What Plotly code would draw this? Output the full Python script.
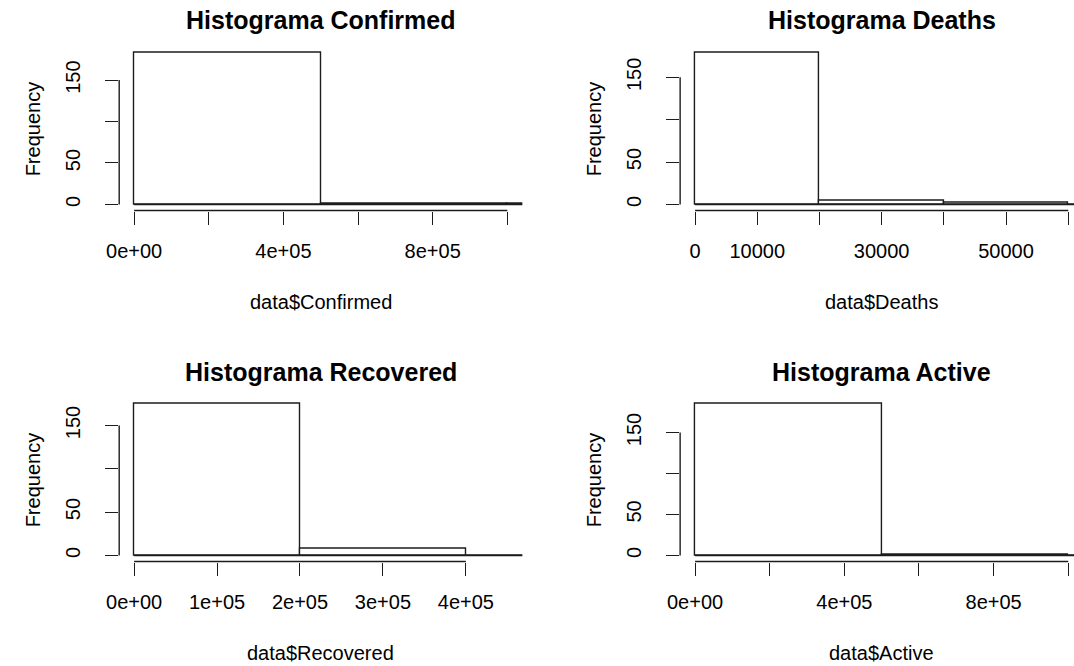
import plotly.graph_objects as go

# Histogram breaks (bin edges) and frequencies for each variable
confirmed_breaks = [0, 5e5, 1e6, 1.5e6, 2e6, 2.5e6, 3e6, 3.5e6, 4e6, 4.5e6]
confirmed_counts = [183, 1, 1, 0, 1, 0, 0, 0, 1]

deaths_breaks = [0, 20000, 40000, 60000, 80000, 100000, 120000, 140000, 160000]
deaths_counts = [179, 4, 2, 0, 1, 0, 0, 1]

recovered_breaks = [0, 2e5, 4e5, 6e5, 8e5, 1e6, 1.2e6, 1.4e6, 1.6e6, 1.8e6, 2e6]
recovered_counts = [175, 8, 0, 1, 1, 0, 1, 0, 0, 1]

active_breaks = [0, 5e5, 1e6, 1.5e6, 2e6, 2.5e6, 3e6]
active_counts = [185, 1, 0, 0, 0, 1]

# Axis ticks and labels (blank labels are the ones R drops for overlap)
confirmed_ticks = [0, 2e5, 4e5, 6e5, 8e5, 1e6]
confirmed_ticklabels = ["0e+00", "", "4e+05", "", "8e+05", ""]
deaths_ticks = [0, 10000, 20000, 30000, 40000, 50000, 60000]
deaths_ticklabels = ["0", "10000", "", "30000", "", "50000", ""]
recovered_ticks = [0, 1e5, 2e5, 3e5, 4e5]
recovered_ticklabels = ["0e+00", "1e+05", "2e+05", "3e+05", "4e+05"]
active_ticks = [0, 2e5, 4e5, 6e5, 8e5, 1e6]
active_ticklabels = ["0e+00", "", "4e+05", "", "8e+05", ""]
freq_ticks = [0, 50, 100, 150]
freq_ticklabels = ["0", "50", "", "150"]

titles = ["Histograma Confirmed", "Histograma Deaths",
          "Histograma Recovered", "Histograma Active"]
xlabels = ["data$Confirmed", "data$Deaths", "data$Recovered", "data$Active"]
ylabel = "Frequency"
xlims = [1e6, 60000, 450000, 1e6]

# ---- page geometry (pixels) ----
W, H = 1074, 666
COL_LEFT = [107.5, 675.3]      # left edge of the plotting region per column
REG_W = 408.0                  # plotting region width (unclipped)
ROW_TOP = [46.7, 397.7]
ROW_BOT = [210.5, 561.5]
INK = "#1c1c1c"
FONT = "Arial, Liberation Sans, sans-serif"

panels = [
    (confirmed_breaks, confirmed_counts, confirmed_ticks, confirmed_ticklabels),
    (deaths_breaks, deaths_counts, deaths_ticks, deaths_ticklabels),
    (recovered_breaks, recovered_counts, recovered_ticks, recovered_ticklabels),
    (active_breaks, active_counts, active_ticks, active_ticklabels),
]

fig = go.Figure()
layout = dict(
    width=W, height=H, margin=dict(l=0, r=0, t=0, b=0),
    paper_bgcolor="white", plot_bgcolor="white",
    showlegend=False, font=dict(family=FONT, color="black", size=20),
)
shapes, annotations = [], []

for i, (breaks, counts, xt, xtl) in enumerate(panels):
    row, col = divmod(i, 2)
    n = "" if i == 0 else str(i + 1)
    xa, ya = "x" + n, "y" + n

    # R-style axis extent: data limits padded by 4% on each side
    xmax = xlims[i]
    lo = -0.04 * xmax
    span = 1.08 * xmax
    left = COL_LEFT[col]
    right = min(left + REG_W, W)
    hi = lo + (right - left) / REG_W * span
    ymax = max(counts)

    centers = [(a + b) / 2 for a, b in zip(breaks[:-1], breaks[1:])]
    widths = [b - a for a, b in zip(breaks[:-1], breaks[1:])]

    fig.add_trace(go.Bar(
        x=centers, y=counts, width=widths, xaxis=xa, yaxis=ya,
        marker=dict(color="white", line=dict(color=INK, width=1.4)),
        hoverinfo="skip"))
    # baseline drawn along all bins (empty bins show as a flat line)
    fig.add_trace(go.Scatter(
        x=[breaks[0], breaks[-1]], y=[0, 0], xaxis=xa, yaxis=ya,
        mode="lines", line=dict(color=INK, width=1.4), hoverinfo="skip"))

    axis_common = dict(showgrid=False, zeroline=False, showline=False,
                       ticks="outside", ticklen=13, tickwidth=1.4,
                       tickcolor=INK, tickmode="array", fixedrange=True,
                       tickfont=dict(family=FONT, size=20, color="black"))
    layout["xaxis" + n] = dict(
        axis_common, domain=[left / W, right / W], range=[lo, hi],
        anchor=ya, tickvals=xt, ticktext=xtl, ticklabelstandoff=9)
    layout["yaxis" + n] = dict(
        axis_common,
        domain=[1 - ROW_BOT[row] / H, 1 - ROW_TOP[row] / H],
        range=[-0.04 * ymax, 1.04 * ymax], anchor=xa,
        tickvals=freq_ticks, ticktext=freq_ticklabels, tickangle=-90,
        ticklabelstandoff=17)

    # detached R-style axis lines, spanning first to last tick
    shapes.append(dict(type="line", xref=xa, yref=ya + " domain",
                       x0=xt[0], x1=xt[-1], y0=0, y1=0,
                       line=dict(color=INK, width=1.4)))
    shapes.append(dict(type="line", xref=xa + " domain", yref=ya,
                       x0=0, x1=0, y0=freq_ticks[0], y1=freq_ticks[-1],
                       line=dict(color=INK, width=1.4)))

    cx = (left + REG_W / 2) / W
    off = ROW_TOP[row] - ROW_TOP[0]
    annotations.append(dict(
        text="<b>" + titles[i] + "</b>", xref="paper", yref="paper",
        x=cx, y=1 - (20.5 + off) / H, xanchor="center", yanchor="middle",
        showarrow=False, font=dict(family=FONT, size=25, color="black")))
    annotations.append(dict(
        text=xlabels[i], xref="paper", yref="paper",
        x=cx, y=1 - (302 + off) / H, xanchor="center", yanchor="middle",
        showarrow=False, font=dict(family=FONT, size=20, color="black")))
    annotations.append(dict(
        text=ylabel, xref="paper", yref="paper", textangle=-90,
        x=(20 + (left - COL_LEFT[0])) / W,
        y=1 - (ROW_TOP[row] + ROW_BOT[row]) / 2 / H,
        xanchor="center", yanchor="middle",
        showarrow=False, font=dict(family=FONT, size=20, color="black")))

layout["shapes"] = shapes
layout["annotations"] = annotations
layout["bargap"] = 0
fig.update_layout(**layout)
fig.write_html("out.html", config={"displayModeBar": False})
